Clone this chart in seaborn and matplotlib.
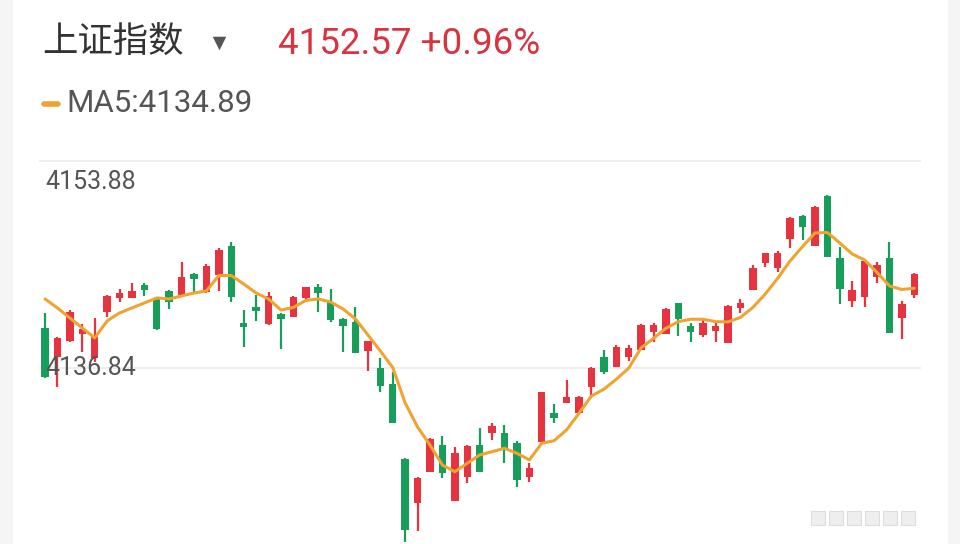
import numpy as np
import pandas as pd
import seaborn as sns
import matplotlib.pyplot as plt
import matplotlib.transforms as mtransforms

sns.set_theme(style="white")
plt.rcParams['font.family'] = ['Roboto', 'Noto Sans CJK SC', 'DejaVu Sans']

title = "上证指数"
last_quote = "4152.57 +0.96%"
ma_text = "MA5:4134.89"
grid_values = [4153.88, 4136.84]
grid_labels = ["4153.88", "4136.84"]

opens = [
    4140.16, 4137.75, 4139.09, 4139.64, 4137.66, 4141.47, 4142.60, 4142.63, 4143.67, 4142.60,
    4143.18, 4142.85, 4144.58, 4143.12, 4144.50, 4146.88, 4140.57, 4141.89, 4140.46, 4141.29,
    4141.06, 4142.60, 4143.51, 4142.27, 4140.83, 4140.65, 4138.24, 4136.84, 4135.52, 4129.32,
    4125.75, 4128.30, 4130.50, 4125.92, 4127.89, 4130.50, 4131.51, 4131.51, 4130.69, 4127.89,
    4130.77, 4133.16, 4133.98, 4133.16, 4135.30, 4137.77, 4136.90, 4137.77, 4138.32, 4139.83,
    4139.64, 4142.17, 4140.30, 4139.56, 4139.91, 4138.92, 4141.75, 4143.26, 4145.51, 4145.05,
    4147.43, 4149.35, 4146.88, 4151.00, 4145.87, 4142.38, 4142.66, 4144.36, 4145.87, 4140.93,
    4142.85]
highs = [
    4141.37, 4139.39, 4141.61, 4140.46, 4140.95, 4142.85, 4143.34, 4143.84, 4143.84, 4142.63,
    4143.26, 4145.57, 4144.66, 4145.40, 4146.72, 4147.24, 4141.61, 4142.85, 4143.12, 4141.37,
    4142.77, 4143.53, 4143.75, 4143.34, 4140.95, 4141.82, 4139.10, 4137.66, 4136.51, 4129.43,
    4127.87, 4131.05, 4131.24, 4130.36, 4130.50, 4131.88, 4132.34, 4132.15, 4130.83, 4129.04,
    4134.89, 4133.88, 4135.85, 4134.53, 4136.90, 4138.32, 4138.73, 4138.73, 4140.44, 4140.52,
    4141.75, 4142.22, 4140.57, 4140.79, 4140.65, 4142.03, 4142.50, 4145.32, 4146.33, 4146.47,
    4149.29, 4149.43, 4150.18, 4151.08, 4146.83, 4144.03, 4145.73, 4145.59, 4147.24, 4142.38,
    4144.64]
lows = [
    4136.02, 4135.28, 4139.00, 4138.15, 4137.33, 4141.04, 4142.29, 4142.63, 4142.77, 4139.97,
    4141.70, 4142.79, 4143.12, 4143.04, 4143.18, 4142.29, 4138.59, 4140.73, 4140.38, 4138.40,
    4141.06, 4142.29, 4141.47, 4140.63, 4138.18, 4138.05, 4136.62, 4134.82, 4132.31, 4122.54,
    4123.42, 4128.30, 4127.76, 4125.92, 4127.35, 4128.30, 4130.91, 4128.99, 4127.07, 4127.48,
    4130.77, 4132.34, 4133.98, 4133.11, 4134.53, 4136.35, 4136.90, 4137.44, 4138.32, 4139.00,
    4139.64, 4139.47, 4139.00, 4139.42, 4139.00, 4138.92, 4141.39, 4143.26, 4145.18, 4144.77,
    4146.69, 4147.38, 4146.88, 4145.95, 4142.11, 4141.89, 4141.89, 4143.86, 4139.72, 4139.20,
    4142.58]
closes = [
    4136.12, 4139.31, 4141.47, 4140.05, 4139.39, 4142.77, 4143.04, 4143.20, 4143.26, 4140.05,
    4142.29, 4144.36, 4144.17, 4145.24, 4146.55, 4142.71, 4140.21, 4141.56, 4142.77, 4140.87,
    4142.71, 4143.51, 4143.04, 4140.79, 4140.30, 4138.07, 4139.06, 4135.36, 4132.34, 4123.50,
    4127.81, 4130.97, 4128.17, 4129.87, 4130.44, 4128.30, 4132.07, 4130.23, 4127.62, 4128.58,
    4134.84, 4132.70, 4134.43, 4134.43, 4136.82, 4136.54, 4138.59, 4138.46, 4140.38, 4140.38,
    4141.70, 4140.85, 4139.83, 4140.57, 4140.30, 4141.94, 4142.22, 4145.05, 4146.28, 4146.33,
    4149.16, 4148.42, 4150.07, 4145.95, 4143.32, 4143.26, 4145.67, 4145.32, 4139.75, 4142.11,
    4144.55]
ma5 = [
    4142.52, 4141.78, 4140.95, 4140.13, 4139.31, 4140.71, 4141.37, 4141.78, 4142.19, 4142.60,
    4142.52, 4142.77, 4143.01, 4143.18, 4144.45, 4144.45, 4143.75, 4143.01, 4142.52, 4141.61,
    4141.82, 4142.40, 4142.52, 4142.27, 4141.70, 4140.87, 4139.56, 4138.24, 4136.88, 4133.96,
    4131.98, 4130.50, 4128.85, 4128.30, 4128.99, 4129.68, 4129.95, 4130.23, 4129.82, 4129.27,
    4130.64, 4130.86, 4131.74, 4133.11, 4134.53, 4135.09, 4135.91, 4136.82, 4138.49, 4139.28,
    4140.11, 4140.65, 4140.85, 4140.85, 4140.65, 4140.63, 4141.00, 4141.82, 4142.93, 4144.22,
    4145.65, 4146.83, 4147.95, 4147.99, 4147.13, 4146.22, 4145.73, 4144.70, 4143.59, 4143.30,
    4143.40]

df = pd.DataFrame({'open': opens, 'high': highs, 'low': lows, 'close': closes, 'ma5': ma5})
df['i'] = np.arange(len(df))
up = df['close'] >= df['open']

RED = '#E5343F'
GREEN = '#179E5B'
colors = np.where(up, RED, GREEN)

fig = plt.figure(figsize=(9.6, 5.44), dpi=100)
fig.patch.set_facecolor('white')

# chart area (bottom of the chart is cut off by the screenshot)
ax = fig.add_axes([38.8 / 960, 0, 881.7 / 960, 394 / 544])
ax.set_xlim(-0.5, len(df) - 0.5)
ax.set_ylim(4122.35, 4154.78)

for v in grid_values:
    ax.axhline(v, color='#EBEBEB', lw=1.2, zorder=0)

ax.vlines(df['i'], df['low'], df['high'], colors=colors, linewidth=1.6, zorder=2)
ax.bar(df['i'], (df['close'] - df['open']).abs(), bottom=df[['open', 'close']].min(axis=1),
       width=0.6, color=colors, linewidth=0, zorder=3)
sns.lineplot(data=df, x='i', y='ma5', ax=ax, color='#EFA331', linewidth=2.2, zorder=4)
ax.axis('off')

trans = mtransforms.blended_transform_factory(ax.transAxes, ax.transData)
top_trans = mtransforms.offset_copy(trans, fig=fig, y=-9, units='dots')
ax.text(0.007, grid_values[0], grid_labels[0], transform=top_trans, va='top', ha='left',
        fontsize=18, color='#555555')
ax.text(0.007, grid_values[1], grid_labels[1], transform=trans, va='center', ha='left',
        fontsize=18, color='#555555')

# header
fig.text(42 / 960, 1 - 42 / 544, title, fontsize=25.5, color='#333333', va='center', ha='left',
         family=['Noto Sans CJK SC', 'DejaVu Sans'])
fig.text(278 / 960, 1 - 44 / 544, last_quote, fontsize=26.5, color='#D8333F', va='center',
         ha='left')
fig.text(66 / 960, 1 - 103 / 544, ma_text, fontsize=22.5, color='#555555', va='center', ha='left')

# overlay for small decorations in pixel space
deco = fig.add_axes([0, 0, 1, 1], zorder=-1)
deco.set_xlim(0, 960)
deco.set_ylim(544, 0)
deco.axis('off')
deco.axvspan(0, 13, color='#F5F5F5', lw=0)
deco.axvspan(948, 960, color='#F5F5F5', lw=0)
over = fig.add_axes([0, 0, 1, 1], zorder=5)
over.set_xlim(0, 960)
over.set_ylim(544, 0)
over.axis('off')
over.scatter([219], [43], marker='v', s=95, color='#555555', lw=0)
over.plot([44, 58], [103.5, 103.5], color='#EFA331', lw=4, solid_capstyle='round')
over.scatter(np.arange(6) * 18 + 818, [518] * 6, marker='s', s=110, facecolor='#EEEEEE',
             edgecolor='#DDDDDD', lw=0.8)

plt.savefig('out.png', dpi=100)
